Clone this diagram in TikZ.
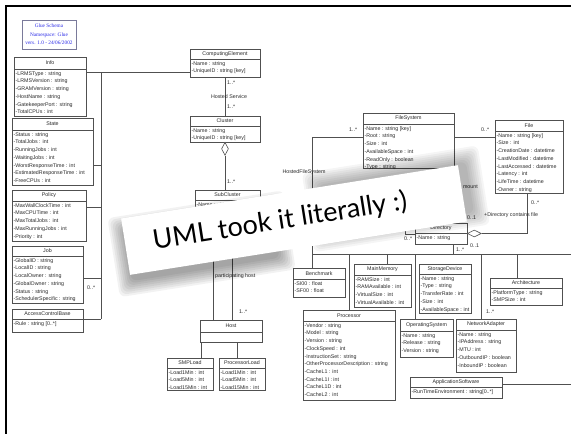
\documentclass[tikz,border=0pt]{standalone}
\usepackage{fontspec}
\setmainfont{Liberation Sans}
\newfontfamily\schemafont{Liberation Serif}
\newfontfamily\bannerfont{Lato}
\usetikzlibrary{shapes.geometric,calc}

\definecolor{umlline}{HTML}{505050}
\definecolor{umltext}{HTML}{2A2A2A}
\definecolor{schemablue}{HTML}{2B2BE8}
\definecolor{schemaframe}{HTML}{7A7A9A}

\tikzset{
  classbox/.style={draw=umlline, line width=0.6pt, inner sep=0pt, outer sep=0pt, fill=white},
  classtitle/.style={font=\fontsize{5.3}{6.5}\selectfont, text=umltext, inner sep=0pt},
  classattr/.style={anchor=north west, align=left, font=\fontsize{5.3}{7.7}\selectfont,
    text=umltext, inner xsep=1.4pt, inner ysep=2.2pt},
  conn/.style={draw=umlline, line width=0.6pt},
  lbl/.style={font=\fontsize{5.3}{6.5}\selectfont, text=umltext, inner sep=0pt},
  aggv/.style={diamond, draw=umlline, fill=white, line width=0.6pt, inner sep=0pt,
    minimum width=7pt, minimum height=13pt, anchor=north},
  aggh/.style={diamond, draw=umlline, fill=white, line width=0.6pt, inner sep=0pt,
    minimum width=14pt, minimum height=7pt, anchor=west},
  bannerbox/.style={fill=white, inner sep=0pt, minimum width=341pt, minimum height=57pt, transform shape},
  bannertext/.style={font=\bannerfont\fontsize{27}{30}\selectfont, text=black, inner sep=0pt, transform shape},
}

% #1 name, #2 left, #3 top, #4 right, #5 divider, #6 bottom, #7 class name, #8 attributes
\newcommand{\umlclass}[8]{%
  \pgfmathsetmacro\umlcw{#4-#2}%
  \pgfmathsetmacro\umlch{#6-#3}%
  \node[classbox, minimum width=\umlcw pt, minimum height=\umlch pt] (#1) at ({(#2+#4)/2},{(#3+#6)/2}) {};
  \draw[conn] (#2,#5) -- (#4,#5);
  \node[classtitle] (#1-title) at ({(#2+#4)/2},{(#3+#5)/2}) {#7};
  \node[classattr] (#1-attr) at (#2,#5) {#8};
}

\begin{document}
\begin{tikzpicture}[x=1pt, y=-1pt]
\useasboundingbox (0,0) rectangle (571,434);
\fill[white] (0,0) rectangle (571,434);
% page edge along the top and the left
\draw[black, line width=1.6pt] (6,434) -- (6,6) -- (571,6);

% schema header
\node[draw=schemaframe, line width=0.8pt, fill=white, minimum width=54pt, minimum height=29pt, inner sep=0pt,
      align=center, text=schemablue, font=\schemafont\fontsize{5.3}{8.5}\selectfont] (schema) at (49,34.5)
  {Glue Schema\\Namespace: Glue\\vers. 1.0 - 24/06/2002};

% left column
\umlclass{info}{14}{57}{86}{69}{116}{Info}{-LRMSType : string\\-LRMSVersion : string\\-GRAMVersion : string\\-HostName : string\\-GatekeeperPort : string\\-TotalCPUs : int}
\umlclass{state}{12}{118}{93}{130}{185}{State}{-Status : string\\-TotalJobs : int\\-RunningJobs : int\\-WaitingJobs : int\\-WorstResponseTime : int\\-EstimatedResponseTime : int\\-FreeCPUs : int}
\umlclass{policy}{12}{190}{86}{201}{241}{Policy}{-MaxWallClockTime : int\\-MaxCPUTime : int\\-MaxTotalJobs : int\\-MaxRunningJobs : int\\-Priority : int}
\umlclass{job}{12}{246}{83}{256}{303}{Job}{-GlobalID : string\\-LocalID : string\\-LocalOwner : string\\-GlobalOwner : string\\-Status : string\\-SchedulerSpecific : string}
\umlclass{acb}{12}{309}{83}{319}{332}{AccessControlBase}{-Rule : string [0..*]}

% computing element chain
\umlclass{ce}{190}{49}{260}{59}{77}{ComputingElement}{-Name : string\\-UniqueID : string [key]}
\umlclass{cluster}{190}{116}{260}{126}{142}{Cluster}{-Name : string\\-UniqueID : string [key]}
\umlclass{subcluster}{195}{190}{260}{200}{240}{SubCluster}{-Name : string}
\umlclass{host}{200}{320}{262}{332}{342}{Host}{}
\umlclass{smpload}{167}{358}{213}{368}{390}{SMPLoad}{-Load1Min : int\\-Load5Min : int\\-Load15Min : int}
\umlclass{procload}{219}{358}{265}{368}{390}{ProcessorLoad}{-Load1Min : int\\-Load5Min : int\\-Load15Min : int}

% storage
\umlclass{fs}{363}{113}{454}{124}{168}{FileSystem}{-Name : string [key]\\-Root : string\\-Size : int\\-AvailableSpace : int\\-ReadOnly : boolean\\-Type : string}
\umlclass{file}{495}{120}{563}{131}{193}{File}{-Name : string [key]\\-Size : int\\-CreationDate : datetime\\-LastModified : datetime\\-LastAccessed : datetime\\-Latency : int\\-LifeTime : datetime\\-Owner : string}
\umlclass{dir}{415}{223}{467}{233}{244}{Directory}{-Name : string}

% host components
\umlclass{bench}{293}{268}{345}{279}{297}{Benchmark}{-SI00 : float\\-SF00 : float}
\umlclass{mem}{354}{264}{411}{275}{307}{MainMemory}{-RAMSize : int\\-RAMAvailable : int\\-VirtualSize : int\\-VirtualAvailable : int}
\umlclass{proc}{303}{310}{395}{321}{400}{Processor}{-Vendor : string\\-Model : string\\-Version : string\\-ClockSpeed : int\\-InstructionSet : string\\-OtherProcessorDescription : string\\-CacheL1 : int\\-CacheL1I : int\\-CacheL1D : int\\-CacheL2 : int}
\umlclass{sd}{419}{264}{471}{274}{313}{StorageDevice}{-Name : string\\-Type : string\\-TransferRate : int\\-Size : int\\-AvailableSpace : int}
\umlclass{arch}{490}{278}{562}{288}{305}{Architecture}{-PlatformType : string\\-SMPSize : int}
\umlclass{os}{400}{319}{453}{331}{357}{OperatingSystem}{-Name : string\\-Release : string\\-Version : string}
\umlclass{na}{456}{319}{516}{330}{372}{NetworkAdapter}{-Name : string\\-IPAddress : string\\-MTU : int\\-OutboundIP : boolean\\-InboundIP : boolean}
\umlclass{app}{410}{377}{502}{387}{398}{ApplicationSoftware}{-RunTimeEnvironment : string[0..*]}

% routing points
\coordinate (lb) at (101,72);
\coordinate (yst) at (0,165);
\coordinate (ypo) at (0,207);
\coordinate (yjo) at (0,278);
\coordinate (yac) at (0,319);
\coordinate (xa) at (213,0);
\coordinate (xb) at (232,0);
\coordinate (xs) at (201,0);
\coordinate (xp) at (237,0);
\coordinate (fsl) at (312,137);
\coordinate (bus) at (312,254);
\coordinate (busend) at (571,254);
\coordinate (xmem) at (387,0);
\coordinate (xos) at (415,0);
\coordinate (xdir) at (453,0);
\coordinate (xna) at (481,0);
\coordinate (xarch) at (517,0);
\coordinate (xfile) at (527,0);
\coordinate (append) at (571,384);
\coordinate (dloop) at (405,212);

% left bus
\draw[conn] (info.east |- lb) -- (ce.west |- lb);
\draw[conn] (lb) -- (lb |- yac);
\draw[conn] (state.east |- yst) -- (lb |- yst);
\draw[conn] (policy.east |- ypo) -- (lb |- ypo);
\draw[conn] (job.east |- yjo) -- (lb |- yjo);
\draw[conn] (acb.east |- yac) -- (lb |- yac);
\node[lbl, anchor=west] (l-job) at (87,288) {0..*};

% computing element to cluster to subcluster
\draw[conn] (ce.south) -- (cluster.north);
\node[lbl, anchor=west] (l-ce1) at (227,83) {1..*};
\node[lbl] (l-hs) at (229,97) {Hosted Service};
\node[lbl, anchor=west] (l-ce2) at (227,107) {1..*};
\node[aggv] (agg1) at (cluster.south) {};
\draw[conn] (agg1.south) -- (agg1.south |- subcluster.north);
\node[lbl, anchor=west] (l-sc) at (227,182) {1..*};

% subcluster to host, host to loads
\draw[conn] (subcluster.south -| xa) -- (host.north -| xa);
\draw[conn] (subcluster.south -| xb) -- (host.north -| xb);
\node[lbl, anchor=west] (l-ph) at (215,276) {participating host};
\node[lbl, anchor=west] (l-host) at (239,312) {1..*};
\draw[conn] (host.south -| xs) -- (smpload.north -| xs);
\draw[conn] (host.south -| xp) -- (procload.north -| xp);

% file system and host component bus
\draw[conn] (fs.west |- fsl) -- (fsl) -- (fsl |- bench.north);
\node[lbl, anchor=west] (l-fs) at (349,130) {1..*};
\node[lbl] (l-hfs) at (304,172) {HostedFileSystem};
\draw[conn] (bus) -- (busend);
\draw[conn] (proc.north |- bus) -- (proc.north);
\draw[conn] (xmem |- bus) -- (xmem |- mem.north);
\draw[conn] (xos |- bus) -- (xos |- os.north);
\draw[conn] (xdir |- dir.south) -- (xdir |- bus);
\node[lbl, anchor=west] (l-dir) at (456,250) {1..*};
\draw[conn] (xna |- bus) -- (xna |- na.north);
\node[lbl, anchor=west] (l-na) at (486,312) {1..*};
\draw[conn] (xarch |- bus) -- (xarch |- arch.north);
\draw[conn] (app.east |- append) -- (append);

% file system to file
\draw[conn] (fs.east |- fsl) -- (file.west |- fsl);
\node[lbl, anchor=west] (l-file) at (481,130) {0..*};

% directory relations
\draw[conn] (dir.west |- 0,234) -- (dloop |- 0,234) -- (dloop) -- (dloop -| dir.north) -- (dir.north);
\node[lbl, anchor=west] (l-sub) at (404,239) {0..*};
\node[aggh] (agg2) at (dir.east) {};
\draw[conn] (agg2.east) -- (agg2.east -| xfile) -- (xfile |- file.south);
\node[lbl, anchor=west] (l-d1) at (467,218) {0..1};
\node[lbl, anchor=west] (l-d2) at (470,246) {0..1};
\node[lbl, anchor=west] (l-cf) at (484,215) {+Directory contains file};
\node[lbl, anchor=west] (l-f2) at (531,203) {0..*};
\node[lbl, anchor=east] (l-mount) at (478,187) {mount};

% the lifted note laid over the diagram
\begin{scope}[shift={(294,220)}, rotate=9]
  \foreach \k in {0,...,7} {
    \pgfmathsetmacro\shw{150+4*\k}
    \pgfmathsetmacro\shh{52+4*\k}
    \node[fill=black, opacity=0.05, inner sep=0pt, rounded corners=6pt, transform shape,
          minimum width=\shw pt, minimum height=\shh pt] at (-95,9) {};
    \node[fill=black, opacity=0.04, inner sep=0pt, rounded corners=6pt, transform shape,
          minimum width=\shw pt, minimum height=\shh pt] at (104,-5) {};
  }
  \node[bannerbox] (note) at (0,0) {};
  \node[bannertext] (notetext) at (-14,-1) {UML took it literally :)};
\end{scope}
\end{tikzpicture}
\end{document}
